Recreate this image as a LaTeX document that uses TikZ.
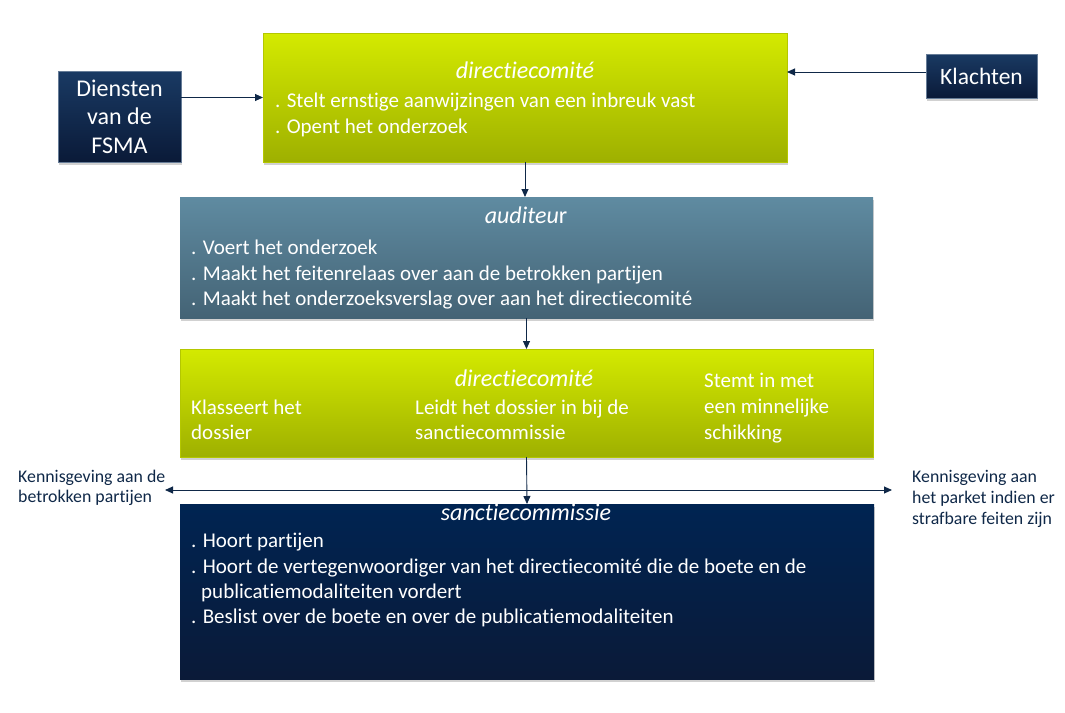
\documentclass[tikz,border=0pt]{standalone}
\usepackage{fontspec}
\setmainfont{Carlito}[Ligatures=NoCommon]
\usetikzlibrary{arrows.meta,shadows}
\definecolor{limetop}{RGB}{212,234,0}
\definecolor{limebot}{RGB}{158,176,0}
\definecolor{steeltop}{RGB}{95,139,161}
\definecolor{steelbot}{RGB}{68,99,117}
\definecolor{navytop}{RGB}{0,36,82}
\definecolor{navybot}{RGB}{10,26,56}
\definecolor{navyline}{RGB}{15,40,72}
\tikzset{
  boxshadow/.style={drop shadow={shadow xshift=1pt,shadow yshift=-3pt,opacity=.3,fill=black!60}},
  comite/.style={anchor=north west,inner sep=0,outer sep=0,boxshadow,top color=limetop,bottom color=limebot,draw=limetop!85!black},
  auditbox/.style={anchor=north west,inner sep=0,outer sep=0,boxshadow,top color=steeltop,bottom color=steelbot},
  sanctbox/.style={anchor=north west,inner sep=0,outer sep=0,boxshadow,top color=navytop,bottom color=navybot},
  sourcebox/.style={inner sep=0,outer sep=0,boxshadow,top color=navytop!90!white,bottom color=navybot,draw=navytop!60!white,text=white,align=center,font=\fontsize{24}{28.5}\selectfont},
  boxtitle/.style={anchor=base,inner sep=0,text=white,font=\fontsize{24}{28}\selectfont\itshape},
  boxline/.style={anchor=base west,inner sep=0,text=white,font=\fontsize{21}{25}\selectfont},
  noteline/.style={anchor=base west,inner sep=0,text=navyline,font=\fontsize{17.8}{21}\selectfont},
  flow/.style={draw=navyline,line width=.9pt,-{Triangle[length=8pt,width=7pt]}},
}
\begin{document}
\begin{tikzpicture}[x=1pt,y=-1pt]
\useasboundingbox (0,0) rectangle (1065,712);
% boxes
\node[comite,minimum width=524pt,minimum height=129pt] (topdc) at (263,33) {};
\node[sourcebox,minimum width=123pt,minimum height=91pt,anchor=north west] (diensten) at (58,71) {Diensten\\van de\\FSMA};
\node[sourcebox,minimum width=111pt,minimum height=44pt,anchor=north west,font=\fontsize{23.5}{28}\selectfont] (klachten) at (926,54) {Klachten};
\node[auditbox,minimum width=693pt,minimum height=121pt] (auditeur) at (180,197) {};
\node[comite,minimum width=693pt,minimum height=108pt] (middc) at (180,349) {};
\node[sanctbox,minimum width=694pt,minimum height=175pt] (sanctie) at (180,504) {};

% directiecomite (top)
\node[boxtitle] (toptitle) at (525,78) {directiecomité};
\node[boxline] (top1) at (275,107) {. Stelt ernstige aanwijzingen van een inbreuk vast};
\node[boxline] (top2) at (275,133) {. Opent het onderzoek};

% auditeur
\node[boxtitle] (audtitle) at (526,223) {auditeu\upshape r};
\node[boxline] (aud1) at (191,254) {. Voert het onderzoek};
\node[boxline] (aud2) at (191,280) {. Maakt het feitenrelaas over aan de betrokken partijen};
\node[boxline] (aud3) at (191,305) {. Maakt het onderzoeksverslag over aan het directiecomité};

% directiecomite (beslissing)
\node[boxtitle] (midtitle) at (524,386) {directiecomité};
\node[boxline] (klas1) at (191,414) {Klasseert het};
\node[boxline] (klas2) at (191,439) {dossier};
\node[boxline] (leid1) at (415,414) {Leidt het dossier in bij de};
\node[boxline] (leid2) at (415,439) {sanctiecommissie};
\node[boxline] (stem1) at (704,387) {Stemt in met};
\node[boxline] (stem2) at (704,413) {een minnelijke};
\node[boxline] (stem3) at (704,439) {schikking};

% sanctiecommissie
\node[boxtitle] (santitle) at (526,520) {sanctiecommissie};
\node[boxline] (san1) at (191,547) {. Hoort partijen};
\node[boxline] (san2) at (191,573) {. Hoort de vertegenwoordiger van het directiecomité die de boete en de};
\node[boxline] (san3) at (201,598) {publicatiemodaliteiten vordert};
\node[boxline] (san4) at (191,623) {. Beslist over de boete en over de publicatiemodaliteiten};

% kennisgevingen
\node[noteline] (kgl1) at (18,482) {Kennisgeving aan de};
\node[noteline] (kgl2) at (18,502) {betrokken partijen};
\node[noteline] (kgr1) at (912,482) {Kennisgeving aan};
\node[noteline] (kgr2) at (912,503) {het parket indien er};
\node[noteline] (kgr3) at (912,524) {strafbare feiten zijn};

% connectors
\coordinate (klin) at ([yshift=4pt]klachten.west);
\coordinate (kgleft) at (165,490);
\coordinate (kgright) at (892,490);
\draw[flow] (diensten.east |- topdc.west) -- (topdc.west);
\draw[flow] (klin) -- (klin -| topdc.east);
\draw[flow] (topdc.south) -- (topdc.south |- auditeur.north);
\draw[flow] (auditeur.south) -- (middc.north);
\draw[flow] (middc.south) -- (sanctie.north);
\draw[flow,{Triangle[length=8pt,width=7pt]}-{Triangle[length=8pt,width=7pt]}] (kgleft) -- (kgright);
\end{tikzpicture}
\end{document}
